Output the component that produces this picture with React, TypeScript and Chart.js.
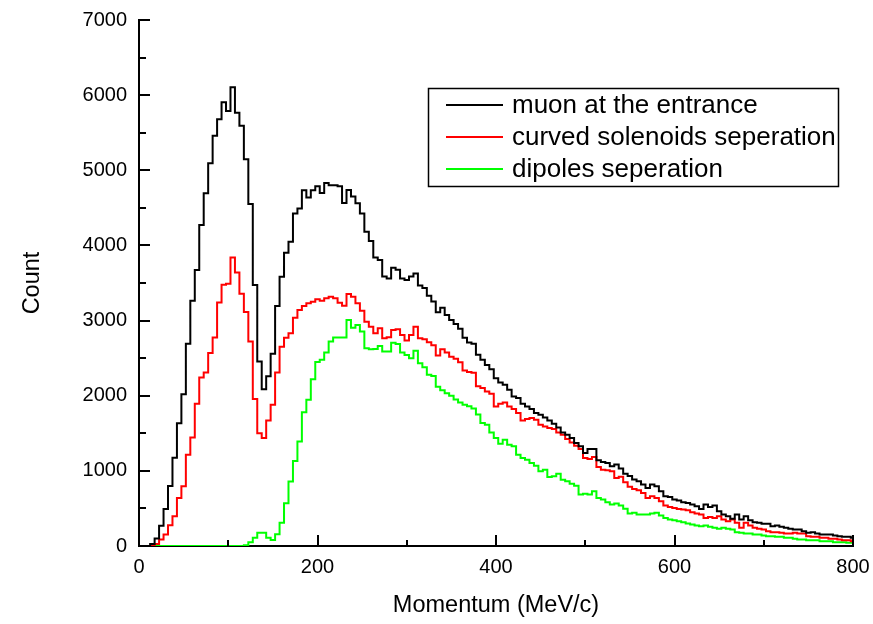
import React, { useEffect, useRef } from "react";
import { Chart, registerables } from "chart.js";

Chart.register(...registerables);

// Histogram: 5 MeV/c bins, centres at 0, 5, 10, ... 800 MeV/c
const BIN_WIDTH = 5;

const muonEntrance = [
  0, 0, 0, 25, 100, 270, 494, 797, 1175, 1633,
  2018, 2690, 3265, 3672, 4272, 4694, 5093, 5461, 5679, 5905,
  5789, 6104, 5767, 5594, 5146, 4552, 3473, 2454, 2087, 2258,
  2558, 3194, 3583, 3902, 4048, 4425, 4491, 4734, 4637, 4734,
  4787, 4699, 4832, 4801, 4801, 4787, 4565, 4738, 4650, 4560,
  4425, 4181, 4060, 3840, 3805, 3588, 3561, 3703, 3676, 3561,
  3539, 3588, 3627, 3466, 3435, 3330, 3255, 3110, 3170, 3075,
  3009, 2956, 2890, 2770, 2708, 2690, 2545, 2477, 2410, 2353,
  2234, 2176, 2145, 2078, 1989, 1968, 1892, 1857, 1822, 1769,
  1746, 1711, 1671, 1627, 1578, 1511, 1481, 1437, 1370, 1326,
  1238, 1291, 1291, 1140, 1118, 1105, 1061, 1083, 1030, 960,
  930, 885, 861, 817, 773, 817, 795, 728, 662, 653,
  618, 604, 582, 573, 551, 529, 494, 551, 520, 538,
  462, 418, 396, 361, 418, 352, 396, 343, 316, 308,
  295, 295, 263, 272, 255, 242, 228, 219, 219, 197,
  175, 184, 166, 153, 153, 153, 139, 130, 122, 122,
  109,
];

const curvedSolenoids = [
  0, 0, 0, 8, 25, 86, 153, 276, 396, 640,
  794, 1215, 1445, 1892, 2242, 2308, 2570, 2775, 3240, 3478,
  3491, 3838, 3640, 3358, 3114, 2720, 1955, 1502, 1437, 1671,
  1879, 2310, 2653, 2770, 2830, 3039, 3141, 3194, 3230, 3252,
  3283, 3265, 3296, 3318, 3296, 3238, 3196, 3354, 3318, 3230,
  3132, 2985, 2919, 2831, 2898, 2765, 2778, 2875, 2884, 2809,
  2734, 2809, 2919, 2765, 2750, 2710, 2670, 2535, 2619, 2575,
  2517, 2492, 2447, 2335, 2315, 2305, 2126, 2101, 2056, 2025,
  1857, 1892, 1910, 1857, 1822, 1769, 1671, 1689, 1702, 1680,
  1614, 1591, 1569, 1556, 1511, 1481, 1424, 1379, 1335, 1291,
  1171, 1158, 1185, 1052, 1016, 1007, 994, 906, 920, 850,
  790, 760, 741, 706, 640, 662, 640, 595, 538, 520,
  507, 494, 485, 476, 449, 432, 418, 374, 387, 374,
  396, 352, 330, 352, 308, 242, 308, 272, 242, 228,
  219, 197, 184, 184, 175, 166, 166, 175, 166, 166,
  130, 122, 122, 109, 109, 96, 96, 86, 77, 77,
  64,
];

const dipoles = [
  0, 0, 0, 0, 0, 0, 0, 0, 0, 0,
  0, 0, 0, 0, 0, 0, 0, 0, 0, 0,
  0, 0, 0, 0, 10, 50, 110, 175, 175, 110,
  80, 155, 310, 570, 860, 1130, 1390, 1780, 1945, 2220,
  2450, 2480, 2575, 2720, 2775, 2775, 2775, 3008, 2905, 2941,
  2853, 2632, 2619, 2623, 2663, 2588, 2588, 2706, 2689, 2574,
  2543, 2499, 2600, 2433, 2380, 2278, 2264, 2118, 2074, 2034,
  2000, 1950, 1910, 1880, 1860, 1830, 1750, 1636, 1614, 1511,
  1437, 1361, 1414, 1348, 1326, 1215, 1171, 1149, 1105, 1069,
  994, 1016, 919, 927, 963, 883, 861, 830, 803, 684,
  697, 684, 728, 640, 618, 582, 551, 564, 540, 495,
  432, 441, 418, 418, 418, 432, 441, 405, 374, 352,
  343, 330, 316, 299, 286, 272, 264, 272, 255, 242,
  228, 242, 228, 219, 184, 175, 166, 166, 153, 153,
  139, 130, 130, 122, 122, 109, 109, 96, 86, 86,
  77, 77, 77, 64, 64, 64, 51, 51, 51, 42,
  42,
];

const seriesLabels = ["muon at the entrance", "curved solenoids seperation", "dipoles seperation"];
const seriesColors = ["#000000", "#ff0000", "#00ff00"];
const seriesValues = [muonEntrance, curvedSolenoids, dipoles];

const xMin = 0;
const xMax = 800;
const xMajorStep = 200;
const xMinorStep = 100;
const yMin = 0;
const yMax = 7000;
const yMajorStep = 1000;
const yMinorStep = 500;

const xTitle = "Momentum (MeV/c)";
const yTitle = "Count";

const FONT = "'Liberation Sans', Arial, Helvetica, sans-serif";

const innerTicks = {
  id: "innerTicks",
  afterDatasetsDraw(chart: any) {
    const { ctx, chartArea, scales } = chart;
    const xs = scales.x;
    const ys = scales.y;
    ctx.save();
    ctx.strokeStyle = "#000";
    ctx.lineWidth = 2;
    for (let v = xMin + xMinorStep; v <= xMax; v += xMinorStep) {
      const px = Math.round(xs.getPixelForValue(v));
      const len = v % xMajorStep === 0 ? 11 : 6;
      ctx.beginPath();
      ctx.moveTo(px, chartArea.bottom);
      ctx.lineTo(px, chartArea.bottom - len);
      ctx.stroke();
    }
    for (let v = yMin + yMinorStep; v <= yMax; v += yMinorStep) {
      const py = Math.round(ys.getPixelForValue(v));
      const len = v % yMajorStep === 0 ? 11 : 7;
      ctx.beginPath();
      ctx.moveTo(chartArea.left, py);
      ctx.lineTo(chartArea.left + len, py);
      ctx.stroke();
    }
    ctx.restore();
  },
};

const boxLegend = {
  id: "boxLegend",
  afterDraw(chart: any) {
    const { ctx } = chart;
    const boxX = 428.5;
    const boxY = 88.5;
    const boxW = 410;
    const boxH = 98;
    ctx.save();
    ctx.fillStyle = "#ffffff";
    ctx.fillRect(boxX, boxY, boxW, boxH);
    ctx.strokeStyle = "#000";
    ctx.lineWidth = 1.5;
    ctx.strokeRect(boxX, boxY, boxW, boxH);
    ctx.font = `26px ${FONT}`;
    ctx.textBaseline = "middle";
    ctx.textAlign = "left";
    seriesLabels.forEach((label, i) => {
      const cy = 105 + i * 32;
      ctx.strokeStyle = seriesColors[i];
      ctx.lineWidth = 2;
      ctx.beginPath();
      ctx.moveTo(446, cy);
      ctx.lineTo(503, cy);
      ctx.stroke();
      ctx.fillStyle = "#000";
      ctx.fillText(label, 512, cy + 1);
    });
    ctx.restore();
  },
};

export default function App() {
  const canvasRef = useRef<HTMLCanvasElement | null>(null);

  useEffect(() => {
    const canvas = canvasRef.current;
    if (!canvas) return;
    const datasets = seriesValues.map((vals, i) => ({
      label: seriesLabels[i],
      data: vals.map((v, k) => ({ x: k * BIN_WIDTH, y: v })),
      borderColor: seriesColors[i],
      backgroundColor: seriesColors[i],
      borderWidth: 2,
      pointRadius: 0,
      stepped: "middle" as const,
      fill: false,
      tension: 0,
    }));

    const chart = new Chart(canvas, {
      type: "line",
      data: { datasets },
      options: {
        responsive: false,
        animation: false,
        devicePixelRatio: 1,
        layout: { padding: { left: 0, right: 20, top: 20, bottom: 0 } },
        plugins: {
          legend: { display: false },
          tooltip: { enabled: false },
        },
        scales: {
          x: {
            type: "linear",
            min: xMin,
            max: xMax,
            grid: { display: false, drawTicks: false },
            border: { display: true, color: "#000", width: 2 },
            ticks: {
              stepSize: xMajorStep,
              color: "#000",
              font: { family: FONT, size: 20 },
              padding: 9,
              maxRotation: 0,
              callback: (v: any) => String(v),
            },
            title: {
              display: true,
              text: xTitle,
              color: "#000",
              font: { family: FONT, size: 23.5 },
              padding: { top: 0, bottom: 4 },
            },
            afterFit(scale: any) {
              scale.height = 78;
              scale.paddingLeft = 0;
              scale.paddingRight = 0;
            },
          },
          y: {
            type: "linear",
            min: yMin,
            max: yMax,
            grid: { display: false, drawTicks: false },
            border: { display: true, color: "#000", width: 2 },
            ticks: {
              stepSize: yMajorStep,
              color: "#000",
              font: { family: FONT, size: 20 },
              padding: 12,
              callback: (v: any) => String(v),
            },
            title: {
              display: true,
              text: yTitle,
              color: "#000",
              font: { family: FONT, size: 23.5 },
              padding: { top: 18, bottom: 0 },
            },
            afterFit(scale: any) {
              scale.width = 139;
              scale.paddingTop = 0;
              scale.paddingBottom = 0;
            },
          },
        },
      } as any,
      plugins: [innerTicks, boxLegend],
    });

    return () => chart.destroy();
  }, []);

  return (
    <div style={{ position: "fixed", left: 0, top: 0, width: 873, height: 624, background: "#fff" }}>
      <canvas ref={canvasRef} width={873} height={624} style={{ display: "block" }} />
    </div>
  );
}
